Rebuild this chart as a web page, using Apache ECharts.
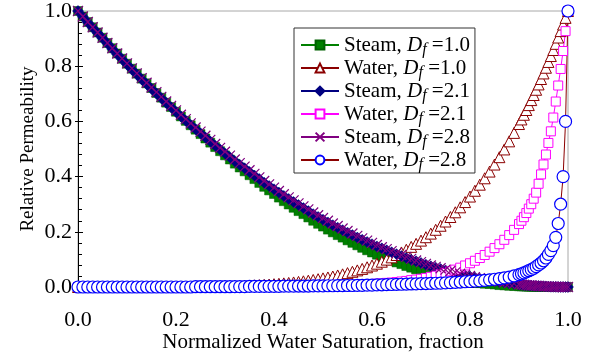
<!DOCTYPE html>
<html>
<head>
<meta charset="utf-8">
<script src="https://cdn.jsdelivr.net/npm/echarts@6/dist/echarts.min.js"></script>
<style>
  html, body { margin: 0; padding: 0; background: #fff; }
  #main { width: 597px; height: 360px; }
</style>
</head>
<body>
<div id="main"></div>
<script>
// normalized water saturation (finer steps near 1.0)
var satX = [
  0.00,0.01,0.02,0.03,0.04,0.05,0.06,0.07,0.08,0.09,
  0.10,0.11,0.12,0.13,0.14,0.15,0.16,0.17,0.18,0.19,
  0.20,0.21,0.22,0.23,0.24,0.25,0.26,0.27,0.28,0.29,
  0.30,0.31,0.32,0.33,0.34,0.35,0.36,0.37,0.38,0.39,
  0.40,0.41,0.42,0.43,0.44,0.45,0.46,0.47,0.48,0.49,
  0.50,0.51,0.52,0.53,0.54,0.55,0.56,0.57,0.58,0.59,
  0.60,0.61,0.62,0.63,0.64,0.65,0.66,0.67,0.68,0.69,
  0.70,0.71,0.72,0.73,0.74,0.75,0.76,0.77,0.78,0.79,
  0.80,0.81,0.82,0.83,0.84,0.85,0.86,0.87,0.88,0.89,
  0.90,0.905,0.91,0.915,0.92,0.925,0.93,0.935,0.94,0.945,
  0.95,0.955,0.96,0.965,0.97,0.975,0.98,0.985,0.99,0.995,
  1.00
];

var steamDf10 = [
  1.000,.980,.960,.941,.922,.903,.884,.865,.846,.827,
  .809,.791,.773,.755,.738,.721,.703,.686,.668,.652,
  .635,.618,.602,.586,.570,.554,.538,.523,.507,.492,
  .477,.462,.447,.433,.419,.405,.391,.377,.363,.350,
  .337,.324,.311,.299,.287,.275,.264,.252,.240,.229,
  .219,.208,.198,.188,.179,.169,.160,.151,.142,.133,
  .125,.117,.110,.103,.096,.089,.083,.076,.070,.064,
  .059,.054,.049,.045,.040,.036,.033,.029,.025,.022,
  .020,.017,.014,.012,.011,.009,.007,.006,.0045,.0035,
  .0027,.0023,.002,.0016,.0012,.001,.0008,.0006,.0004,.0003,
  .0002,.0001,0,0,0,0,0,0,0,0,
  0
];

var waterDf10 = [
  0,0,0,0,0,0,0,0,0,0,
  0,0,0,0,.0001,.0001,.0001,.0002,.0002,.0002,
  .0003,.0004,.0005,.0006,.0008,.001,.0012,.0014,.0017,.0021,
  .0024,.0029,.0034,.0039,.0045,.0053,.0061,.0069,.0079,.009,
  .0102,.0116,.0131,.0147,.0165,.0185,.0206,.0229,.0255,.0283,
  .0313,.0345,.038,.0418,.0459,.0503,.0551,.0602,.0656,.0715,
  .0778,.0845,.0916,.0992,.1074,.116,.1252,.135,.1454,.1564,
  .1681,.1804,.1935,.2073,.2219,.2373,.2536,.2707,.2887,.3077,
  .3277,.3487,.3707,.3939,.4182,.4437,.4704,.4984,.5277,.5584,
  .5905,.6071,.624,.6413,.6591,.6772,.6957,.7146,.7339,.7536,
  .7738,.7944,.8154,.8368,.8587,.8811,.9039,.9272,.951,.9752,
  1.0
];

var steamDf21 = [
  1.000,.979,.958,.939,.920,.901,.882,.862,.843,.825,
  .806,.788,.770,.752,.735,.718,.701,.684,.667,.651,
  .634,.618,.602,.587,.572,.557,.542,.527,.512,.498,
  .484,.470,.456,.443,.430,.417,.404,.391,.378,.366,
  .354,.342,.330,.319,.308,.297,.286,.275,.264,.254,
  .244,.234,.224,.215,.206,.197,.188,.179,.171,.163,
  .155,.147,.140,.133,.126,.119,.112,.105,.099,.093,
  .087,.081,.075,.070,.065,.060,.055,.051,.046,.042,
  .038,.034,.030,.027,.024,.021,.018,.016,.013,.011,
  .009,.008,.007,.006,.0055,.005,.0045,.004,.0035,.003,
  .0025,.002,.0015,.001,.0008,.0005,.0003,.0002,.0001,0,
  0
];

var waterDf21 = [
  0,0,0,0,0,0,0,0,0,0,
  0,0,0,0,0,0,0,0,0,0,
  0,0,0,0,0,0,0,0,0,0,
  0,0,0,0,0,0,0,0,0,0,
  .001,.0012,.0014,.0016,.0018,.002,.0022,.0025,.0028,.003,
  .0035,.004,.0045,.005,.0055,.006,.0068,.0076,.0085,.0095,
  .011,.012,.013,.015,.016,.018,.020,.022,.025,.027,
  .030,.033,.037,.041,.046,.051,.057,.063,.070,.078,
  .086,.095,.105,.116,.128,.141,.155,.171,.188,.207,
  .228,.240,.253,.268,.284,.300,.320,.342,.374,.408,
  .444,.480,.522,.564,.614,.672,.730,.790,.855,.927,
  1.0
];

var steamDf28 = [
  1.000,.980,.960,.941,.922,.903,.884,.865,.846,.828,
  .810,.792,.774,.757,.740,.723,.706,.689,.672,.656,
  .640,.624,.608,.593,.578,.563,.548,.533,.518,.504,
  .490,.476,.462,.449,.436,.423,.410,.397,.384,.372,
  .360,.348,.336,.325,.314,.303,.292,.281,.270,.260,
  .250,.240,.230,.221,.212,.203,.194,.185,.176,.168,
  .160,.152,.144,.137,.130,.123,.116,.109,.102,.096,
  .090,.084,.078,.073,.068,.063,.058,.053,.048,.044,
  .040,.036,.032,.029,.026,.023,.020,.017,.014,.012,
  .010,.009,.008,.007,.006,.0056,.005,.004,.0036,.003,
  .0025,.002,.0016,.0012,.0009,.0006,.0004,.0002,.0001,0,
  0
];

var waterDf28 = [
  0,0,0,0,0,0,0,0,0,0,
  0,0,0,0,0,0,0,0,0,0,
  0,0,0,0,.001,.001,.001,.001,.001,.001,
  .001,.001,.0015,.0015,.0015,.002,.002,.002,.002,.0025,
  .0025,.0025,.003,.003,.003,.0035,.0035,.0035,.004,.004,
  .004,.0045,.0045,.005,.005,.0055,.0055,.006,.006,.0065,
  .007,.0075,.008,.0085,.009,.0095,.010,.0105,.011,.0115,
  .012,.0125,.013,.0135,.014,.015,.016,.017,.018,.019,
  .020,.021,.022,.024,.026,.028,.030,.033,.036,.040,
  .045,.048,.051,.055,.059,.063,.068,.074,.080,.087,
  .095,.105,.118,.132,.150,.180,.230,.300,.400,.600,
  1.0
];

var seriesNames = ['Steam, Df=1.0', 'Water, Df=1.0', 'Steam, Df=2.1', 'Water, Df=2.1', 'Steam, Df=2.8', 'Water, Df=2.8'];
var legendText = {
  'Steam, Df=1.0': 'Steam, {i|D}{s|f}{n| =1.0}',
  'Water, Df=1.0': 'Water, {i|D}{s|f}{n| =1.0}',
  'Steam, Df=2.1': 'Steam, {i|D}{s|f}{n| =2.1}',
  'Water, Df=2.1': 'Water, {i|D}{s|f}{n| =2.1}',
  'Steam, Df=2.8': 'Steam, {i|D}{s|f}{n| =2.8}',
  'Water, Df=2.8': 'Water, {i|D}{s|f}{n| =2.8}'
};

var FONT = 'Liberation Serif';

function pairs(ys) {
  var out = [];
  for (var i = 0; i < satX.length; i++) {
    out.push([satX[i], ys[i]]);
  }
  return out;
}

function makeSeries(name, ys, symbol, size, lineColor, fill, border, bw) {
  return {
    name: name,
    type: 'line',
    data: pairs(ys),
    symbol: symbol,
    symbolSize: size,
    showAllSymbol: true,
    clip: false,
    lineStyle: { color: lineColor, width: 1 },
    itemStyle: { color: fill, borderColor: border, borderWidth: bw },
    emphasis: { disabled: true }
  };
}

var chart = echarts.init(document.getElementById('main'));
var option = {
  animation: false,
  backgroundColor: '#fff',
  textStyle: { fontFamily: FONT },
  grid: {
    left: 78, right: 29, top: 9, bottom: 73,
    show: true, borderColor: '#a8a8a8', borderWidth: 1
  },
  legend: {
    orient: 'vertical',
    left: 294, top: 28,
    selectedMode: false,
    backgroundColor: '#fff',
    borderColor: '#333',
    borderWidth: 1,
    padding: [4, 5, 0, 6],
    itemGap: -3,
    itemWidth: 38,
    itemHeight: 11,
    data: seriesNames,
    formatter: function (name) { return legendText[name]; },
    textStyle: {
      fontFamily: FONT, fontSize: 21, color: '#000', lineHeight: 17,
      rich: {
        i: { fontFamily: FONT, fontSize: 21, fontStyle: 'italic', color: '#000', lineHeight: 17 },
        s: { fontFamily: FONT, fontSize: 16, fontStyle: 'italic', color: '#000', lineHeight: 7, padding: [10, 0, 0, 0] },
        n: { fontFamily: FONT, fontSize: 21, color: '#000', lineHeight: 17 }
      }
    }
  },
  xAxis: {
    type: 'value', min: 0, max: 1, interval: 0.2,
    name: 'Normalized Water Saturation, fraction',
    nameLocation: 'middle', nameGap: 45, nameMoveOverlap: false,
    nameTextStyle: { fontFamily: FONT, fontSize: 21, color: '#000' },
    axisLine: { lineStyle: { color: '#000', width: 1 } },
    axisTick: { inside: true, length: 4, lineStyle: { color: '#000' } },
    splitLine: { show: false },
    axisLabel: {
      fontFamily: FONT, fontSize: 22, color: '#000', margin: 22,
      formatter: function (v) { return v.toFixed(1); }
    }
  },
  yAxis: [{
    type: 'value', min: 0, max: 1, interval: 0.2,
    name: 'Relative Permeability',
    nameLocation: 'middle', nameGap: 40, nameMoveOverlap: false,
    nameTextStyle: { fontFamily: FONT, fontSize: 19, color: '#000' },
    axisLine: { lineStyle: { color: '#000', width: 1 } },
    axisTick: { inside: true, length: 5, lineStyle: { color: '#000' } },
    minorTick: { show: true, splitNumber: 5, length: 4, lineStyle: { color: '#000' } },
    splitLine: { show: false },
    axisLabel: {
      fontFamily: FONT, fontSize: 22, color: '#000', margin: 6,
      formatter: function (v) { return v.toFixed(1); }
    }
  }, {
    // outward half of the major ticks
    type: 'value', min: 0, max: 1, interval: 0.2, position: 'left',
    axisLine: { show: false },
    axisTick: { show: true, inside: false, length: 3, lineStyle: { color: '#000' } },
    axisLabel: { show: false },
    splitLine: { show: false }
  }],
  series: [
    makeSeries(seriesNames[0], steamDf10, 'rect', 9, '#008000', '#008000', '#006000', 0.5),
    makeSeries(seriesNames[1], waterDf10, 'triangle', 11, '#8b0000', '#fff', '#8b0000', 1),
    makeSeries(seriesNames[2], steamDf21, 'diamond', 11, '#000080', '#000080', '#000080', 0.5),
    makeSeries(seriesNames[3], waterDf21, 'rect', 9, '#ff00ff', '#fff', '#ff00ff', 1),
    makeSeries(seriesNames[4], steamDf28, 'path://M0,0L10,10M10,0L0,10', 10, '#800080', '#800080', '#800080', 1.2),
    makeSeries(seriesNames[5], waterDf28, 'circle', 12, '#8b0000', '#fff', '#0000ff', 1.2)
  ]
};
chart.setOption(option);
</script>
</body>
</html>
